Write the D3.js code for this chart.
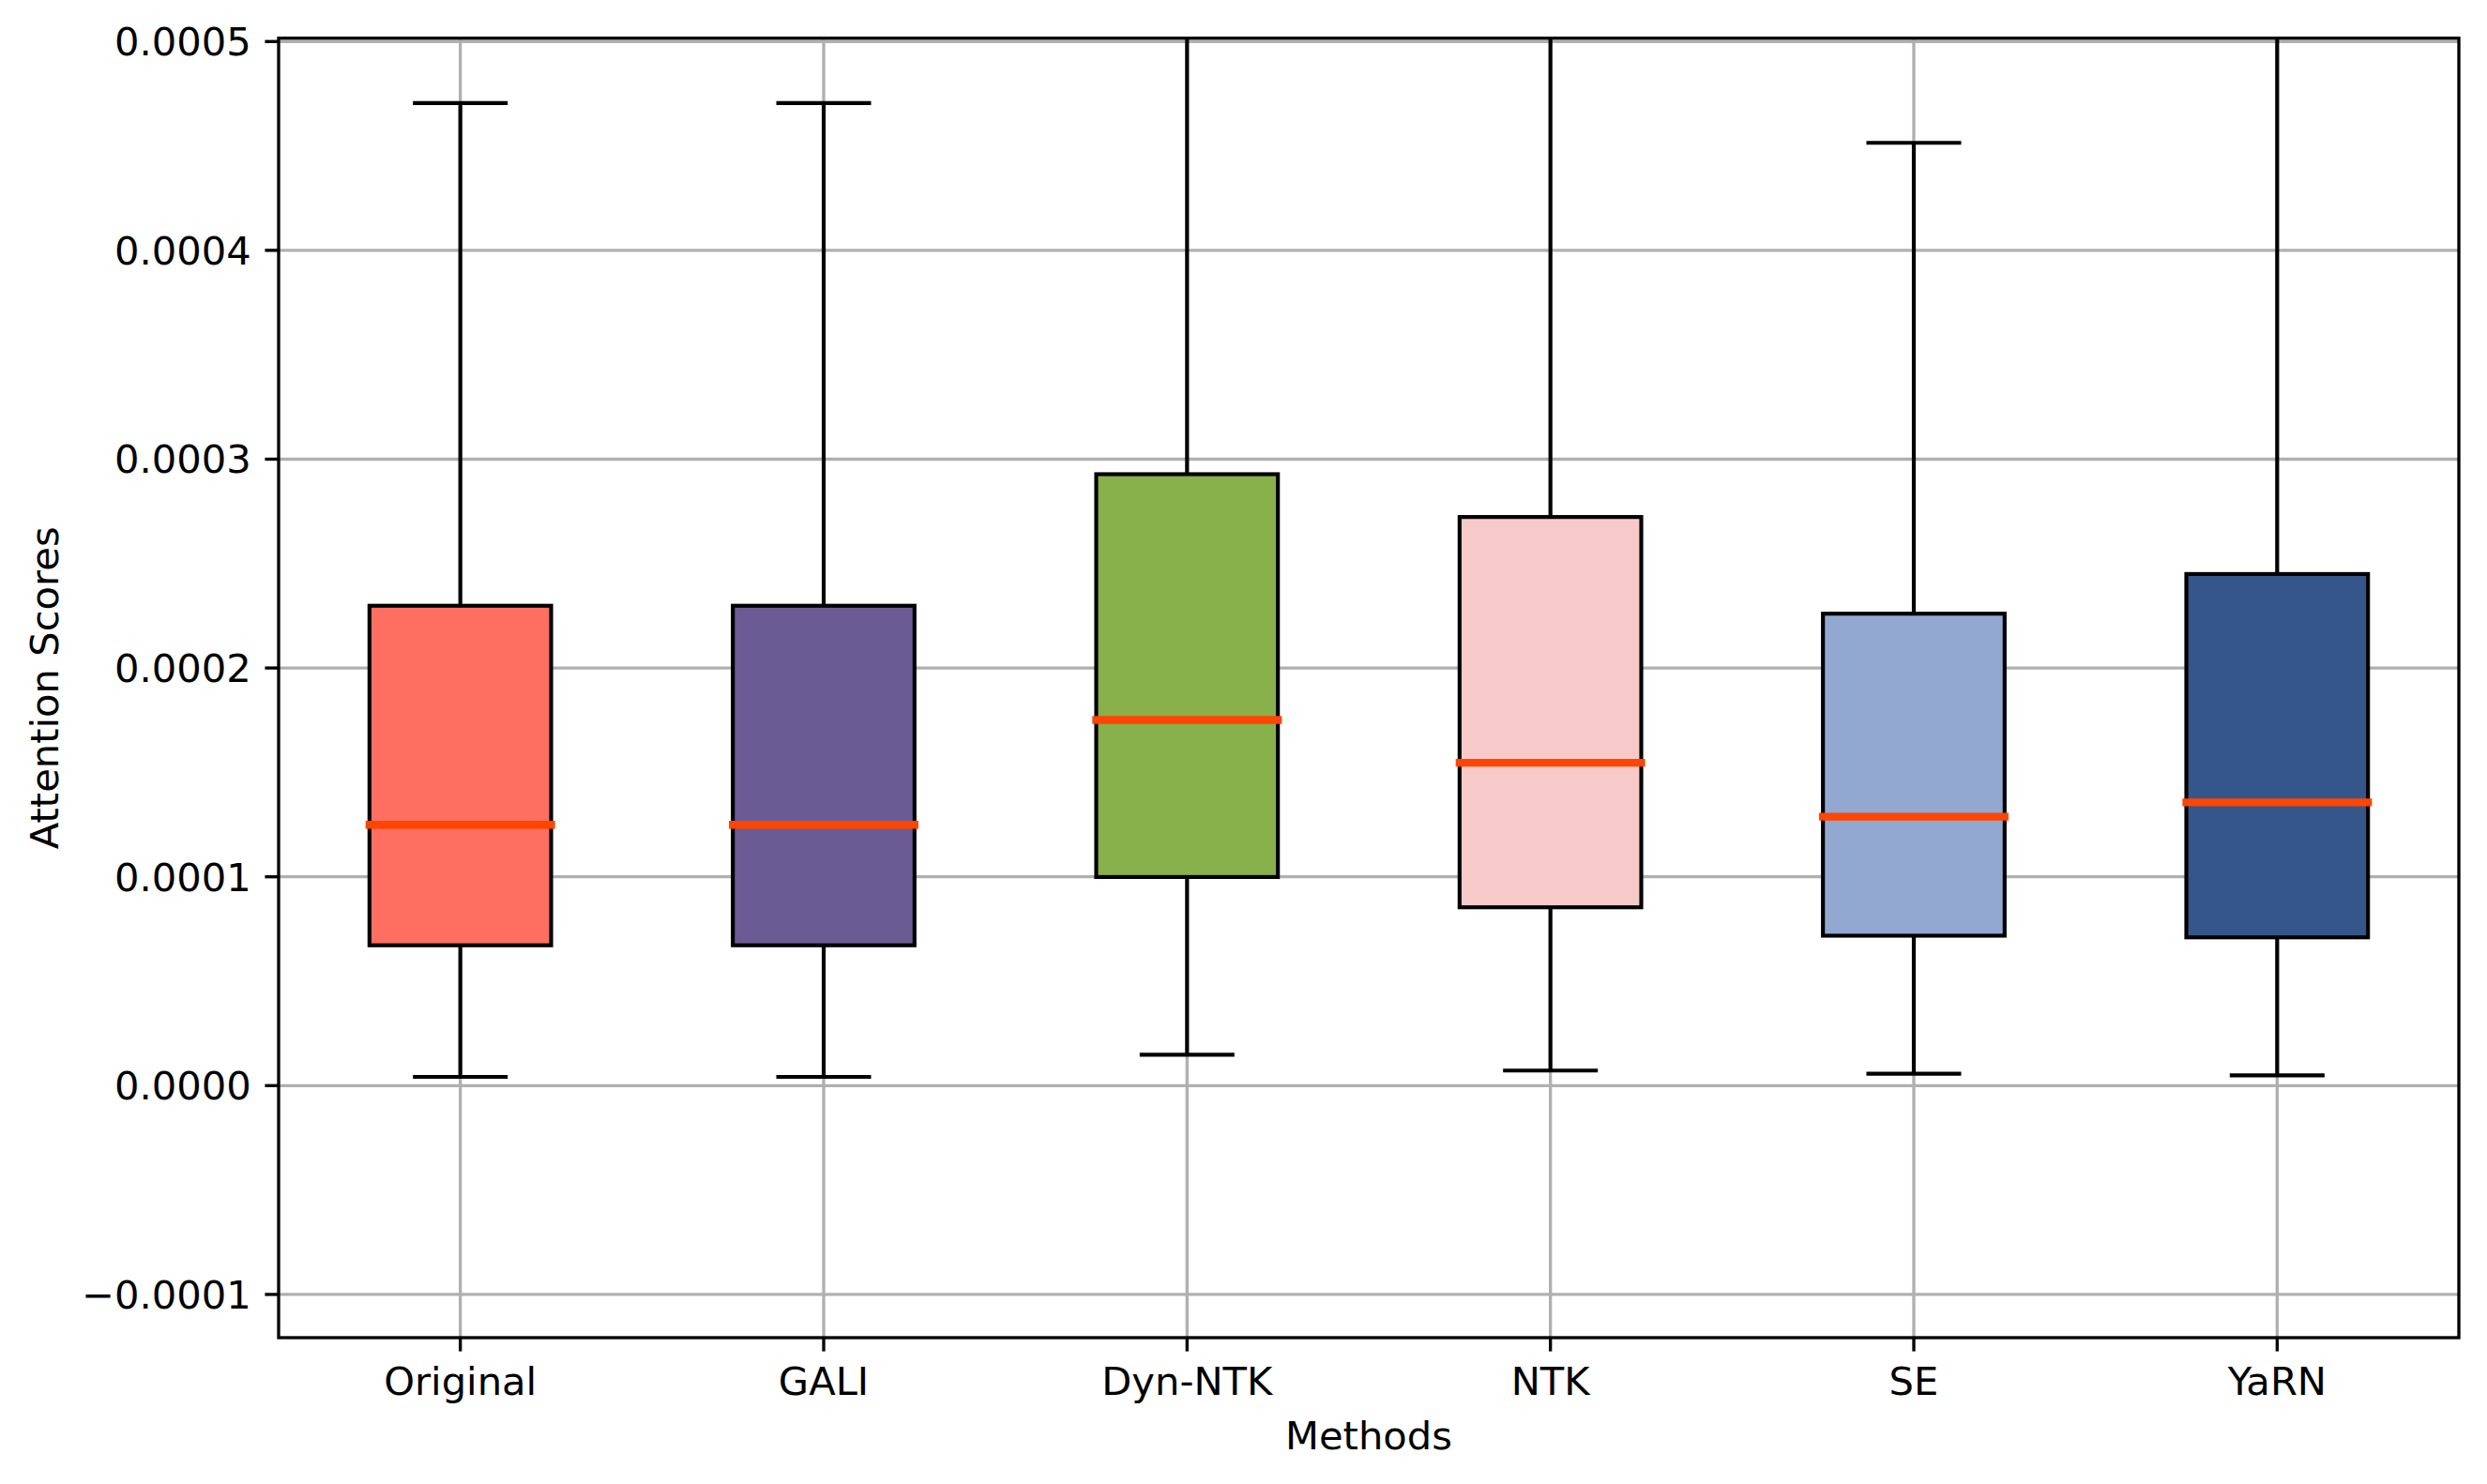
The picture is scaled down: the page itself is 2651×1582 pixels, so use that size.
<!DOCTYPE html>
<html>
<head>
<meta charset="utf-8">
<script src="https://cdn.jsdelivr.net/npm/d3@7"></script>
<style>
  body { margin: 0; background: #fff; }
  text { font-family: "DejaVu Sans", sans-serif; fill: #000; }
</style>
</head>
<body>
<script>
// box statistics, one entry per method
var methods = ["Original", "GALI", "Dyn-NTK", "NTK", "SE", "YaRN"];
var whiskerLow = [0.0000042, 0.0000042, 0.0000148, 0.0000072, 0.0000057, 0.0000049];
var q1 = [0.0000672, 0.0000672, 0.0000999, 0.0000854, 0.0000718, 0.0000710];
var median = [0.0001249, 0.0001249, 0.0001751, 0.0001546, 0.0001288, 0.0001356];
var q3 = [0.0002298, 0.0002298, 0.0002928, 0.0002723, 0.0002260, 0.0002450];
var whiskerHigh = [0.0004705, 0.0004705, 0.00058, 0.00055, 0.0004515, 0.000506];
var boxColors = ["#FF6F61", "#6B5B95", "#88B04B", "#F7CAC9", "#92A8D1", "#34568B"];
var yTicks = [-0.0001, 0, 0.0001, 0.0002, 0.0003, 0.0004, 0.0005];

var W = 2651, H = 1582;
var pt = 300 / 72; // figure was saved at 300 dpi
// plot area (don't call these top/left: window.top is read-only)
var pL = 297, pR = 2621, pT = 40.7, pB = 1426;

var svg = d3.select("body")
  .append("svg")
  .attr("width", W)
  .attr("height", H);

// x in "boxplot units": boxes sit at 1..6, limits 0.5..6.5
var x = d3.scaleLinear().domain([0.5, methods.length + 0.5]).range([pL, pR]);
var y = d3.scaleLinear().domain([-0.0001207, 0.0005016]).range([pB, pT]);

var data = methods.map(function(m, i) {
  return { name: m, pos: i + 1, lo: whiskerLow[i], q1: q1[i], med: median[i],
           q3: q3[i], hi: whiskerHigh[i], color: boxColors[i] };
});

svg.append("defs").append("clipPath").attr("id", "plotclip")
  .append("rect")
  .attr("x", pL).attr("y", pT)
  .attr("width", pR - pL).attr("height", pB - pT);

// grid
var grid = svg.append("g").attr("stroke", "#b0b0b0").attr("stroke-width", 0.8 * pt);
grid.selectAll("line.h").data(yTicks).enter().append("line")
  .attr("x1", pL).attr("x2", pR)
  .attr("y1", function(d) { return y(d); })
  .attr("y2", function(d) { return y(d); });
grid.selectAll("line.v").data(data).enter().append("line")
  .attr("y1", pT).attr("y2", pB)
  .attr("x1", function(d) { return x(d.pos); })
  .attr("x2", function(d) { return x(d.pos); });

var boxW = 0.5, capW = 0.25;
var plot = svg.append("g").attr("clip-path", "url(#plotclip)");

var g = plot.selectAll("g.box").data(data).enter().append("g");

// whiskers
g.append("line")
  .attr("x1", function(d) { return x(d.pos); })
  .attr("x2", function(d) { return x(d.pos); })
  .attr("y1", function(d) { return y(d.q3); })
  .attr("y2", function(d) { return y(d.hi); })
  .attr("stroke", "#000").attr("stroke-width", pt);
g.append("line")
  .attr("x1", function(d) { return x(d.pos); })
  .attr("x2", function(d) { return x(d.pos); })
  .attr("y1", function(d) { return y(d.q1); })
  .attr("y2", function(d) { return y(d.lo); })
  .attr("stroke", "#000").attr("stroke-width", pt);

// caps
["lo", "hi"].forEach(function(k) {
  g.append("line")
    .attr("x1", function(d) { return x(d.pos - capW / 2); })
    .attr("x2", function(d) { return x(d.pos + capW / 2); })
    .attr("y1", function(d) { return y(d[k]); })
    .attr("y2", function(d) { return y(d[k]); })
    .attr("stroke", "#000").attr("stroke-width", pt)
    .attr("stroke-linecap", "square");
});

// boxes
g.append("rect")
  .attr("x", function(d) { return x(d.pos - boxW / 2); })
  .attr("width", x(1 + boxW) - x(1))
  .attr("y", function(d) { return y(d.q3); })
  .attr("height", function(d) { return y(d.q1) - y(d.q3); })
  .attr("fill", function(d) { return d.color; })
  .attr("stroke", "#000").attr("stroke-width", pt);

// medians
g.append("line")
  .attr("x1", function(d) { return x(d.pos - boxW / 2); })
  .attr("x2", function(d) { return x(d.pos + boxW / 2); })
  .attr("y1", function(d) { return y(d.med); })
  .attr("y2", function(d) { return y(d.med); })
  .attr("stroke", "#FF4500").attr("stroke-width", 2 * pt)
  .attr("stroke-linecap", "square");

// spines
svg.append("rect")
  .attr("x", pL).attr("y", pT)
  .attr("width", pR - pL).attr("height", pB - pT)
  .attr("fill", "none").attr("stroke", "#000").attr("stroke-width", 0.8 * pt);

var fs = 10 * pt;
var tickLen = 3.5 * pt;

// y axis ticks
var yt = svg.append("g").selectAll("g").data(yTicks).enter().append("g");
yt.append("line")
  .attr("x1", pL - tickLen).attr("x2", pL)
  .attr("y1", function(d) { return y(d); }).attr("y2", function(d) { return y(d); })
  .attr("stroke", "#000").attr("stroke-width", 0.8 * pt);
yt.append("text")
  .attr("x", pL - tickLen - 3.5 * pt)
  .attr("y", function(d) { return y(d); })
  .attr("dy", "0.36em")
  .attr("text-anchor", "end")
  .attr("font-size", fs)
  .text(function(d) { return d3.format(".4f")(d).replace("-", "\u2212"); });

// x axis ticks
var xt = svg.append("g").selectAll("g").data(data).enter().append("g");
xt.append("line")
  .attr("x1", function(d) { return x(d.pos); }).attr("x2", function(d) { return x(d.pos); })
  .attr("y1", pB).attr("y2", pB + tickLen)
  .attr("stroke", "#000").attr("stroke-width", 0.8 * pt);
xt.append("text")
  .attr("x", function(d) { return x(d.pos); })
  .attr("y", 1487)
  .attr("text-anchor", "middle")
  .attr("font-size", fs)
  .text(function(d) { return d.name; });

// axis labels
svg.append("text")
  .attr("x", (pL + pR) / 2).attr("y", 1545)
  .attr("text-anchor", "middle")
  .attr("font-size", fs)
  .text("Methods");

svg.append("text")
  .attr("transform", "translate(62," + ((pT + pB) / 2) + ") rotate(-90)")
  .attr("text-anchor", "middle")
  .attr("font-size", fs)
  .text("Attention Scores");
</script>
</body>
</html>
